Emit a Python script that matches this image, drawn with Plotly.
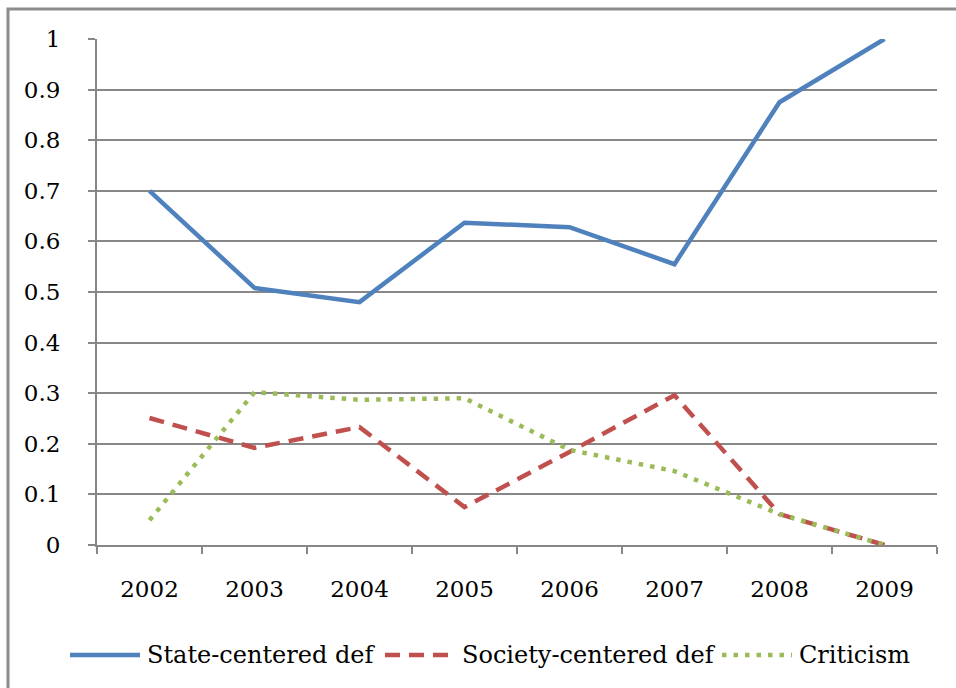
import plotly.graph_objects as go

years = ["2002", "2003", "2004", "2005", "2006", "2007", "2008", "2009"]
state_centered = [0.70, 0.508, 0.48, 0.637, 0.628, 0.555, 0.875, 1.0]
society_centered = [0.251, 0.192, 0.233, 0.075, 0.184, 0.296, 0.061, 0.0]
criticism = [0.049, 0.302, 0.287, 0.29, 0.188, 0.146, 0.061, 0.0]
y_ticks = [0, 0.1, 0.2, 0.3, 0.4, 0.5, 0.6, 0.7, 0.8, 0.9, 1.0]
y_tick_text = ["0", "0.1", "0.2", "0.3", "0.4", "0.5", "0.6", "0.7", "0.8", "0.9", "1"]

FONT = "DejaVu Serif"
GRID = "#878787"
W, H = 956, 688
L, R, T, B = 97, 19, 39, 143
PW, PH = W - L - R, H - T - B


def px_x(px):
    return (px - L) / PW


def px_y(py):
    return (H - B - py) / PH


series = [
    ("State-centered def", state_centered, dict(color="#4F81BD", width=4.5)),
    ("Society-centered def", society_centered, dict(color="#C0504D", width=4.5, dash="15px,9px")),
    ("Criticism", criticism, dict(color="#9BBB59", width=4.5, dash="4.5px,7px")),
]

fig = go.Figure()
for name, vals, line in series:
    fig.add_trace(go.Scatter(x=years, y=vals, mode="lines", name=name, line=line,
                             showlegend=False))

# legend row drawn beneath the plot: sample line + label for each series
legend_left = [70, 385, 722]
sample_len = 70
legend_row = 655
shapes = [dict(type="rect", xref="paper", yref="paper",
               x0=px_x(8), x1=px_x(990), y0=px_y(720), y1=px_y(9),
               line=dict(color="#8c8c8c", width=3), layer="below")]
annotations = []
for (name, _, line), x0 in zip(series, legend_left):
    shapes.append(dict(type="line", xref="paper", yref="paper",
                       x0=px_x(x0), x1=px_x(x0 + sample_len),
                       y0=px_y(legend_row), y1=px_y(legend_row), line=line))
    annotations.append(dict(xref="paper", yref="paper", x=px_x(x0 + sample_len + 5),
                            y=px_y(legend_row), text=name, showarrow=False,
                            xanchor="left", yanchor="middle",
                            font=dict(family=FONT, size=24, color="black")))

fig.update_layout(
    width=W, height=H,
    margin=dict(l=L, r=R, t=T, b=B),
    paper_bgcolor="white", plot_bgcolor="white",
    font=dict(family=FONT, size=23, color="black"),
    showlegend=False,
    xaxis=dict(type="category", range=[-0.5, 7.5], showgrid=False,
               showline=True, linecolor=GRID, linewidth=2,
               ticks="outside", tickson="boundaries", ticklen=7, tickcolor=GRID, tickwidth=2,
               ticklabelstandoff=22, tickfont=dict(family=FONT, size=23)),
    yaxis=dict(range=[0, 1], tickvals=y_ticks, ticktext=y_tick_text,
               showgrid=True, gridcolor=GRID, gridwidth=2,
               showline=True, linecolor=GRID, linewidth=2, zeroline=False,
               ticks="outside", ticklen=7, tickcolor=GRID, tickwidth=2,
               ticklabelstandoff=23, tickfont=dict(family=FONT, size=23)),
    shapes=shapes,
    annotations=annotations,
)

fig.write_html("out.html")
